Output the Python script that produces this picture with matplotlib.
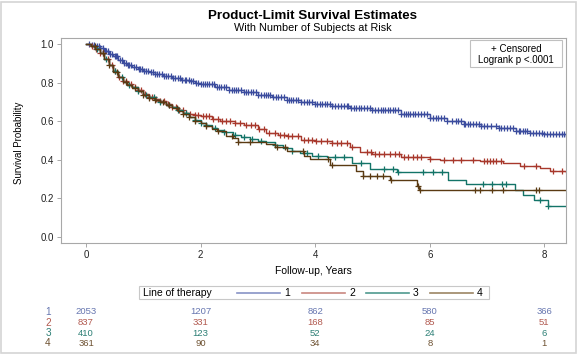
import numpy as np
import matplotlib
matplotlib.use("Agg")
import matplotlib.pyplot as plt
from matplotlib.patches import Rectangle
from matplotlib.lines import Line2D
from matplotlib.transforms import blended_transform_factory

plt.rcParams["font.family"] = ["Liberation Sans", "DejaVu Sans"]

# Kaplan-Meier curves (time in years, survival)
t1 = [0, 0.08, 0.16, 0.24, 0.32, 0.4, 0.48, 0.56, 0.64, 0.72, 0.8, 0.9, 1.0, 1.1, 1.2, 1.35,
      1.5, 1.65, 1.8, 1.9, 2.0, 2.25, 2.5, 2.75, 3.0, 3.25, 3.5, 3.75, 4.0, 4.3, 4.6, 5.0,
      5.5, 6.0, 6.3, 6.6, 6.9, 7.2, 7.5, 7.75, 8.0, 8.38]
s1 = [1.0, 0.997, 0.99, 0.98, 0.966, 0.952, 0.937, 0.92, 0.905, 0.892, 0.882, 0.872, 0.863,
      0.855, 0.847, 0.837, 0.827, 0.817, 0.808, 0.801, 0.795, 0.778, 0.763, 0.75, 0.738, 0.725,
      0.712, 0.701, 0.69, 0.68, 0.67, 0.656, 0.64, 0.616, 0.6, 0.585, 0.575, 0.563, 0.548,
      0.538, 0.532, 0.525]

t2 = [0, 0.08, 0.16, 0.24, 0.32, 0.4, 0.48, 0.56, 0.64, 0.72, 0.8, 0.9, 1.0, 1.1, 1.2, 1.3,
      1.4, 1.5, 1.6, 1.7, 1.8, 1.9, 2.0, 2.2, 2.34, 2.6, 2.75, 3.0, 3.15, 3.35, 3.5, 3.75, 4.0,
      4.3, 4.6, 4.78, 5.0, 5.5, 6.0, 6.17, 6.87, 7.28, 7.57, 7.92, 8.1, 8.38]
s2 = [1.0, 0.99, 0.975, 0.955, 0.925, 0.893, 0.86, 0.832, 0.808, 0.792, 0.778, 0.76, 0.74,
      0.724, 0.714, 0.703, 0.688, 0.672, 0.657, 0.645, 0.637, 0.63, 0.625, 0.612, 0.603, 0.59,
      0.581, 0.56, 0.54, 0.53, 0.521, 0.505, 0.495, 0.486, 0.466, 0.442, 0.43, 0.415, 0.405,
      0.4, 0.391, 0.382, 0.366, 0.356, 0.34, 0.335]

t3 = [0, 0.08, 0.16, 0.24, 0.32, 0.4, 0.48, 0.56, 0.64, 0.72, 0.8, 0.9, 1.0, 1.1, 1.2, 1.3,
      1.4, 1.5, 1.6, 1.7, 1.8, 1.9, 2.0, 2.1, 2.2, 2.28, 2.4, 2.57, 2.7, 2.86, 3.0, 3.15, 3.3,
      3.44, 3.6, 3.74, 3.95, 4.2, 4.64, 4.96, 5.42, 6.32, 6.64, 7.49, 7.62, 7.81, 8.07, 8.38]
s3 = [1.0, 0.99, 0.975, 0.955, 0.925, 0.893, 0.86, 0.83, 0.806, 0.79, 0.776, 0.758, 0.738,
      0.725, 0.713, 0.7, 0.686, 0.672, 0.657, 0.642, 0.622, 0.605, 0.592, 0.578, 0.565, 0.555,
      0.542, 0.529, 0.518, 0.509, 0.5, 0.491, 0.475, 0.46, 0.445, 0.434, 0.42, 0.412, 0.382,
      0.352, 0.336, 0.296, 0.273, 0.244, 0.218, 0.192, 0.161, 0.161]

t4 = [0, 0.08, 0.16, 0.24, 0.32, 0.4, 0.48, 0.56, 0.64, 0.72, 0.8, 0.9, 1.0, 1.1, 1.2, 1.3,
      1.4, 1.5, 1.6, 1.7, 1.8, 1.9, 2.0, 2.1, 2.2, 2.28, 2.45, 2.57, 2.66, 3.15, 3.3, 3.5, 3.8,
      3.91, 4.25, 4.72, 4.84, 5.3, 5.77, 5.82, 8.38]
s4 = [1.0, 0.99, 0.974, 0.953, 0.923, 0.89, 0.857, 0.828, 0.803, 0.787, 0.774, 0.756, 0.736,
      0.722, 0.71, 0.698, 0.684, 0.67, 0.655, 0.64, 0.62, 0.603, 0.59, 0.575, 0.56, 0.547,
      0.525, 0.512, 0.491, 0.481, 0.465, 0.443, 0.417, 0.405, 0.374, 0.339, 0.316, 0.296,
      0.261, 0.244, 0.244]

# censoring times
c1 = [0.05, 0.1, 0.14, 0.19, 0.22, 0.25, 0.29, 0.33, 0.35, 0.38, 0.42, 0.46, 0.5, 0.53,
      0.55, 0.59, 0.62, 0.66, 0.7, 0.73, 0.75, 0.79, 0.83, 0.87, 0.92, 0.95, 0.98, 1.02, 1.05,
      1.09, 1.13, 1.17, 1.2, 1.24, 1.28, 1.32, 1.36, 1.4, 1.44, 1.48, 1.52, 1.56, 1.6, 1.64,
      1.68, 1.72, 1.75, 1.79, 1.83, 1.87, 1.92, 1.96, 2.0, 2.04, 2.08, 2.12, 2.15, 2.2, 2.24,
      2.28, 2.32, 2.36, 2.4, 2.45, 2.5, 2.54, 2.58, 2.62, 2.66, 2.7, 2.75, 2.79, 2.83, 2.88,
      2.92, 2.96, 3.0, 3.05, 3.1, 3.14, 3.18, 3.22, 3.27, 3.31, 3.35, 3.4, 3.45, 3.5, 3.55,
      3.58, 3.62, 3.66, 3.7, 3.75, 3.8, 3.85, 3.9, 3.95, 4.0, 4.04, 4.08, 4.12, 4.17, 4.21,
      4.25, 4.3, 4.35, 4.4, 4.45, 4.5, 4.55, 4.58, 4.62, 4.67, 4.72, 4.76, 4.8, 4.85, 4.9,
      4.95, 5.0, 5.05, 5.1, 5.14, 5.18, 5.22, 5.27, 5.31, 5.35, 5.4, 5.45, 5.5, 5.55, 5.58,
      5.62, 5.66, 5.7, 5.75, 5.8, 5.85, 5.9, 5.95, 6.0, 6.05, 6.1, 6.15, 6.2, 6.25, 6.3, 6.38,
      6.45, 6.5, 6.55, 6.6, 6.62, 6.66, 6.7, 6.75, 6.8, 6.85, 6.9, 6.95, 7.0, 7.07, 7.15, 7.2,
      7.25, 7.3, 7.35, 7.4, 7.45, 7.5, 7.55, 7.58, 7.62, 7.66, 7.7, 7.75, 7.8, 7.85, 7.9,
      7.95, 8.0, 8.05, 8.1, 8.15, 8.2, 8.25, 8.3, 8.35]
c2 = [0.1, 0.18, 0.25, 0.3, 0.38, 0.45, 0.5, 0.58, 0.65, 0.7, 0.78, 0.85, 0.9, 0.96, 1.03,
      1.1, 1.16, 1.23, 1.3, 1.37, 1.43, 1.5, 1.57, 1.63, 1.69, 1.75, 1.82, 1.9, 1.95, 2.05,
      2.1, 2.15, 2.22, 2.3, 2.38, 2.45, 2.52, 2.6, 2.68, 2.8, 2.88, 2.95, 3.02, 3.1, 3.2, 3.3,
      3.38, 3.45, 3.52, 3.6, 3.7, 3.8, 3.88, 3.95, 4.02, 4.1, 4.2, 4.3, 4.38, 4.45, 4.55,
      4.65, 4.9, 4.97, 5.05, 5.12, 5.2, 5.3, 5.4, 5.47, 5.55, 5.62, 5.7, 5.78, 5.85, 6.0,
      6.25, 6.4, 6.55, 6.75, 6.95, 7.0, 7.05, 7.1, 7.15, 7.25, 7.65, 7.85, 8.15, 8.3]
c3 = [0.2, 0.35, 0.5, 0.62, 0.75, 0.9, 1.05, 1.18, 1.3, 1.45, 1.6, 1.75, 1.9, 2.0, 2.1,
      2.25, 2.4, 2.6, 2.75, 2.9, 3.05, 3.3, 3.6, 3.85, 4.05, 4.35, 4.5, 4.8, 5.2, 5.36, 5.45,
      5.89, 6.06, 6.21, 6.93, 7.08, 7.26, 7.33, 7.92, 8.07]
c4 = [0.15, 0.3, 0.4, 0.55, 0.7, 0.85, 1.0, 1.1, 1.2, 1.35, 1.45, 1.58, 1.7, 1.8, 1.9, 2.1,
      2.31, 2.54, 2.66, 2.86, 3.33, 3.47, 3.79, 4.23, 4.3, 4.84, 4.96, 5.07, 5.19, 5.33, 5.8,
      5.83, 6.79, 6.88, 7.08, 7.28, 7.86, 7.91]

groups = ["1", "2", "3", "4"]
risk_times = [0, 2, 4, 6, 8]
risk1 = [2053, 1207, 862, 580, 366]
risk2 = [837, 331, 168, 85, 51]
risk3 = [410, 123, 52, 24, 6]
risk4 = [361, 90, 34, 8, 1]

line_colors = ["#3b4c9e", "#a8382c", "#137468", "#5a3a12"]
soft_colors = ["#8893c6", "#c98880", "#4f998f", "#9c8564"]
text_colors = ["#6676b0", "#b25a50", "#2c7f75", "#6e5232"]

curves = [(t1, s1, c1), (t2, s2, c2), (t3, s3, c3), (t4, s4, c4)]
risks = [risk1, risk2, risk3, risk4]


def surv_at(t, s, c):
    t = np.asarray(t)
    s = np.asarray(s)
    idx = np.searchsorted(t, c, side="right") - 1
    return s[idx]


fig = plt.figure(figsize=(5.77, 3.57), dpi=100)
ax = fig.add_axes([61 / 577, 1 - 243 / 357, 505 / 577, 205 / 357])

for (t, s, c), col in zip(curves, line_colors):
    ax.plot(t, s, drawstyle="steps-post", color=col, lw=1.0)
    ax.plot(c, surv_at(t, s, c), ls="none", marker="+", ms=4, mew=0.9, color=col)

ax.set_xlim(-0.436, 8.377)
ax.set_ylim(-0.033, 1.033)
ax.set_xticks(risk_times)
ax.set_yticks([0.0, 0.2, 0.4, 0.6, 0.8, 1.0])
ax.set_yticklabels(["0.0", "0.2", "0.4", "0.6", "0.8", "1.0"])
for sp in ax.spines.values():
    sp.set_color("#a8a8a8")
    sp.set_linewidth(0.8)
ax.tick_params(length=3, width=0.7, color="#a8a8a8", labelsize=7, labelcolor="#222222", pad=2)

# censored / logrank box
ax.add_patch(Rectangle((0.81, 0.86), 0.182, 0.13, transform=ax.transAxes,
                       fill=False, edgecolor="#c0c0c0", lw=0.8))
ax.text(0.901, 0.948, "+ Censored", transform=ax.transAxes, ha="center", va="center", fontsize=7)
ax.text(0.901, 0.895, "Logrank p <.0001", transform=ax.transAxes, ha="center", va="center", fontsize=7)

fig.text(313 / 577, 1 - 16 / 357, "Product-Limit Survival Estimates", ha="center", va="center",
         fontsize=9.6, fontweight="bold")
fig.text(313 / 577, 1 - 28 / 357, "With Number of Subjects at Risk", ha="center", va="center",
         fontsize=7.8)
fig.text(19 / 577, 1 - 143 / 357, "Survival Probability", rotation=90, ha="center", va="center",
         fontsize=7)
fig.text(313 / 577, 1 - 271 / 357, "Follow-up, Years", ha="center", va="center", fontsize=7.5)

# bottom legend
fy = 1 - 292.5 / 357
fig.patches.append(Rectangle((139 / 577, 1 - 299 / 357), 350 / 577, 13 / 357,
                             transform=fig.transFigure, fill=False, edgecolor="#c8c8c8", lw=0.8))
fig.text(143 / 577, fy, "Line of therapy", ha="left", va="center", fontsize=7.5)
seg_x = [237, 302, 366, 430]
for g, x0, col in zip(groups, seg_x, soft_colors):
    fig.lines.append(Line2D([x0 / 577, (x0 + 43) / 577], [fy, fy], transform=fig.transFigure,
                            color=col, lw=1.2))
    fig.text((x0 + 50) / 577, fy, g, ha="center", va="center", fontsize=7.5)

# number at risk table
trans = blended_transform_factory(ax.transData, fig.transFigure)
row_y = [312, 322.5, 333, 343]
for g, counts, col, yy in zip(groups, risks, text_colors, row_y):
    fy2 = 1 - yy / 357
    fig.text(48 / 577, fy2, g, ha="center", va="center", fontsize=7.2, color=col)
    for tt, n in zip(risk_times, counts):
        ax.text(tt, fy2, str(n), transform=trans, ha="center", va="center", fontsize=6.8,
                color=col, clip_on=False)

fig.patches.append(Rectangle((0.002, 1 - 353 / 357), 0.996, 351 / 357, transform=fig.transFigure,
                             fill=False, edgecolor="#d4d4d4", lw=1.2))

fig.savefig("out.png", dpi=100)
